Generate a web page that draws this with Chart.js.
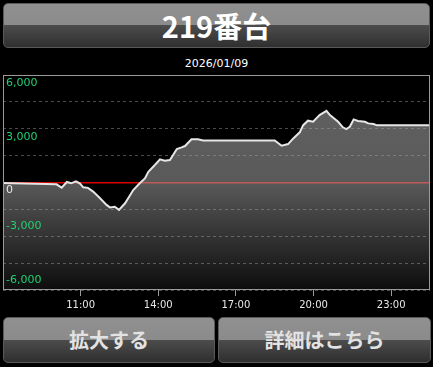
<!DOCTYPE html>
<html>
<head>
<meta charset="utf-8">
<script src="https://cdn.jsdelivr.net/npm/chart.js@4"></script>
<style>
  html, body { margin: 0; padding: 0; background: #000; width: 433px; height: 367px; overflow: hidden; }
  .btn {
    position: absolute; box-sizing: border-box;
    border: 1px solid #5a5a5a; border-radius: 5px;
    background: linear-gradient(#909090 0%, #8b8b8b 49%, #4c4c4c 50%, #2f2f2f 100%);
    font-family: "Noto Sans CJK JP", sans-serif; font-weight: bold; text-align: center;
  }
  #head { left: 3px; top: 3px; width: 427px; height: 45px; line-height: 42px; font-size: 29px; color: #fff; }
  #zoom { left: 3px; top: 317px; width: 212px; height: 46px; line-height: 44px; font-size: 20px; color: #e2e2e2; }
  #more { left: 218px; top: 317px; width: 213px; height: 46px; line-height: 44px; font-size: 20px; color: #e2e2e2; }
  #date { position: absolute; left: 0; top: 57px; width: 433px; text-align: center;
    font: 11px "DejaVu Sans", sans-serif; line-height: 13px; color: #fff; }
  #wrap { position: absolute; left: 0; top: 72px; width: 433px; height: 245px; }
</style>
</head>
<body>
<div class="btn" id="head">219番台</div>
<div id="date">2026/01/09</div>
<div id="wrap"><canvas id="slump"></canvas></div>
<div class="btn" id="zoom">拡大する</div>
<div class="btn" id="more">詳細はこちら</div>
<script>
// data (time of day, diff)
const times = ['08:00', '10:04', '10:16', '10:28', '10:38', '10:49', '10:58', '11:06', '11:17', '11:29',
  '11:45', '12:00', '12:08', '12:19', '12:29', '12:43', '13:02', '13:17', '13:29', '13:37',
  '13:52', '14:04', '14:15', '14:27', '14:43', '14:54', '15:02', '15:17', '15:32', '15:44',
  '18:30', '18:46', '19:01', '19:13', '19:28', '19:36', '19:47', '19:59', '20:14', '20:30',
  '20:38', '20:57', '21:08', '21:16', '21:24', '21:33', '21:43', '21:59', '22:07', '22:19',
  '22:27', '24:30'];
const diffs = [-30, -100, -290, 30, -45, 70, -45, -270, -300, -510,
  -880, -1250, -1390, -1350, -1530, -1160, -420, -45, 230, 600,
  975, 1290, 1215, 1255, 1870, 1960, 2035, 2410, 2410, 2350,
  2350, 2050, 2145, 2460, 2800, 3200, 3450, 3390, 3760, 4000,
  3760, 3390, 3080, 2980, 3110, 3520, 3430, 3390, 3300, 3260,
  3190, 3190];
const xTickHours = [11, 14, 17, 20, 23];
const yLabelValues = [6000, 3000, 0, -3000, -6000];

const toHour = t => { const [h, m] = t.split(':').map(Number); return h + m / 60; };
const points = times.map((t, i) => ({ x: toHour(t), y: diffs[i] }));
const fmt = v => (v < 0 ? '-' : '') + String(Math.abs(v)).replace(/\B(?=(\d{3})+$)/g, ',');

// outline of the plot area
const frame = {
  id: 'frame',
  afterDatasetsDraw(chart) {
    const { ctx, chartArea: a } = chart;
    ctx.save();
    ctx.strokeStyle = '#9a9a9a';
    ctx.lineWidth = 1;
    ctx.strokeRect(a.left + 0.5, a.top + 0.5, a.width - 1, a.height - 1);
    ctx.restore();
  }
};

const fillGrad = (c) => {
  const a = c.chart.chartArea;
  if (!a) return 'rgba(160,160,160,0.55)';
  const g = c.chart.ctx.createLinearGradient(0, a.top, 0, a.bottom);
  g.addColorStop(0, 'rgba(165,165,165,0.60)');
  g.addColorStop(0.5, 'rgba(165,165,165,0.54)');
  g.addColorStop(1, 'rgba(165,165,165,0.08)');
  return g;
};

const yLabelAxis = (keep, offset) => ({
  min: -6000, max: 6000,
  position: 'left',
  border: { display: false },
  ticks: {
    stepSize: 1500, mirror: true, padding: 3, labelOffset: offset, z: 1,
    font: { family: 'DejaVu Sans', size: 11 },
    color: c => c.tick.value === 0 ? '#e8e8e8' : '#1fd173',
    callback: v => yLabelValues.includes(v) && keep(v) ? fmt(v) : ''
  },
  afterFit: s => { s.width = 0; s.paddingTop = 0; s.paddingBottom = 0; }
});

const yMain = yLabelAxis(v => v >= 0, 8);
yMain.grid = {
  drawTicks: false,
  color: c => c.tick && c.tick.value === 0 ? '#dd0000' : '#4a4a4a',
  lineWidth: c => c.tick && c.tick.value === 0 ? 1.5 : 1
};
yMain.border = { display: false, dash: c => c.tick && c.tick.value === 0 ? [] : [3, 3] };

const yNeg = yLabelAxis(v => v < 0, -10);
yNeg.grid = { display: false };

new Chart(document.getElementById('slump'), {
  type: 'line',
  data: {
    datasets: [{
      data: points,
      borderColor: '#e6e6e6',
      borderWidth: 2,
      pointRadius: 0,
      tension: 0,
      fill: 'start',
      backgroundColor: fillGrad
    }]
  },
  options: {
    responsive: true,
    maintainAspectRatio: false,
    animation: false,
    layout: { padding: { left: 3, right: 3, top: 3, bottom: 0 } },
    plugins: { legend: { display: false }, tooltip: { enabled: false } },
    scales: {
      x: {
        type: 'linear', min: 8, max: 24.5,
        border: { display: false },
        grid: { drawOnChartArea: false, tickLength: 6, tickColor: '#9a9a9a' },
        ticks: {
          padding: 3, maxRotation: 0, autoSkip: false, color: '#e8e8e8',
          font: { family: 'DejaVu Sans', size: 10 },
          callback: v => String(v).padStart(2, '0') + ':00'
        },
        afterBuildTicks: s => { s.ticks = xTickHours.map(v => ({ value: v })); },
        afterFit: s => { s.height = 27; s.paddingLeft = 0; s.paddingRight = 0; }
      },
      y: yMain,
      yNeg: yNeg
    }
  },
  plugins: [frame]
});
</script>
</body>
</html>
